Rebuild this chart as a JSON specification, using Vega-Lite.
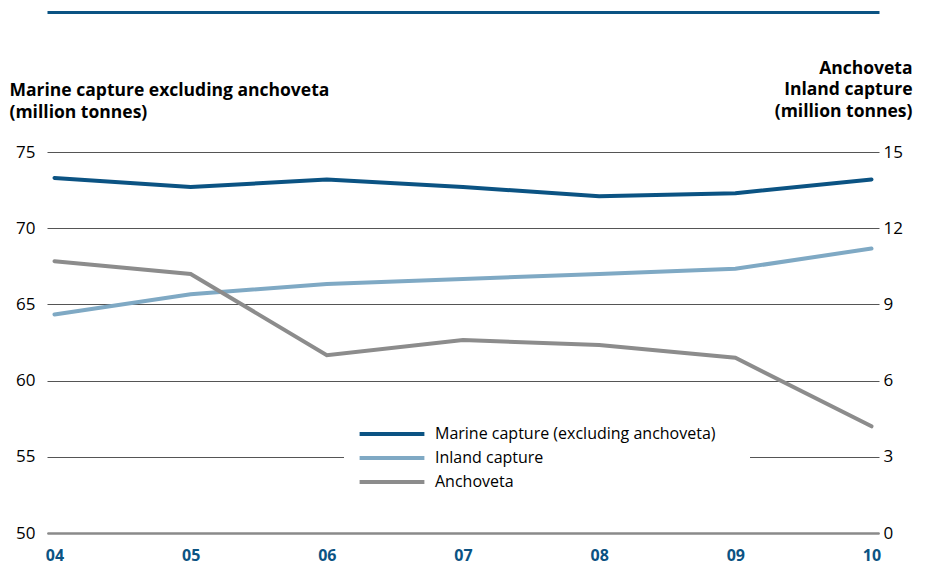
{
  "$schema": "https://vega.github.io/schema/vega-lite/v6.json",
  "width": 832,
  "height": 381,
  "autosize": {"type": "none"},
  "padding": {"left": 47, "top": 152, "right": 55, "bottom": 32},
  "background": "white",
  "config": {
    "font": "Open Sans",
    "view": {"stroke": null}
  },
  "data": {
    "values": [
      {"year": "04", "series": "Marine capture (excluding anchoveta)", "value": 73.3},
      {"year": "05", "series": "Marine capture (excluding anchoveta)", "value": 72.7},
      {"year": "06", "series": "Marine capture (excluding anchoveta)", "value": 73.2},
      {"year": "07", "series": "Marine capture (excluding anchoveta)", "value": 72.7},
      {"year": "08", "series": "Marine capture (excluding anchoveta)", "value": 72.1},
      {"year": "09", "series": "Marine capture (excluding anchoveta)", "value": 72.3},
      {"year": "10", "series": "Marine capture (excluding anchoveta)", "value": 73.2},
      {"year": "04", "series": "Inland capture", "value": 8.6},
      {"year": "05", "series": "Inland capture", "value": 9.4},
      {"year": "06", "series": "Inland capture", "value": 9.8},
      {"year": "07", "series": "Inland capture", "value": 10.0},
      {"year": "08", "series": "Inland capture", "value": 10.2},
      {"year": "09", "series": "Inland capture", "value": 10.4},
      {"year": "10", "series": "Inland capture", "value": 11.2},
      {"year": "04", "series": "Anchoveta", "value": 10.7},
      {"year": "05", "series": "Anchoveta", "value": 10.2},
      {"year": "06", "series": "Anchoveta", "value": 7.0},
      {"year": "07", "series": "Anchoveta", "value": 7.6},
      {"year": "08", "series": "Anchoveta", "value": 7.4},
      {"year": "09", "series": "Anchoveta", "value": 6.9},
      {"year": "10", "series": "Anchoveta", "value": 4.2}
    ]
  },
  "layer": [
    {
      "transform": [{"filter": "datum.series == 'Marine capture (excluding anchoveta)'"}],
      "mark": {"type": "line", "strokeWidth": 4, "strokeCap": "round"},
      "encoding": {
        "x": {
          "field": "year", "type": "ordinal",
          "scale": {"type": "point", "padding": 0.055},
          "axis": {
            "title": null, "labelAngle": 0, "ticks": false,
            "domainColor": "#8a8a8a", "domainWidth": 2.5,
            "labelFontWeight": "bold", "labelColor": "#0b5383", "labelFontSize": 16,
            "labelPadding": 14, "grid": false
          }
        },
        "y": {
          "field": "value", "type": "quantitative",
          "scale": {"domain": [50, 75], "nice": false, "zero": false},
          "axis": {
            "values": [50, 55, 60, 65, 70, 75],
            "title": ["Marine capture excluding anchoveta", "(million tonnes)"],
            "titleAngle": 0, "titleAlign": "left", "titleBaseline": "alphabetic",
            "titleX": -38, "titleY": -57, "titleFontSize": 17.5, "titleFontWeight": "bold",
            "titleColor": "#000", "titleLineHeight": 22,
            "domain": false, "ticks": false, "labelPadding": 12,
            "labelFontSize": 17, "labelColor": "#000",
            "grid": true, "gridColor": "#555", "gridWidth": 1
          }
        },
        "color": {
          "field": "series", "type": "nominal",
          "scale": {
            "domain": ["Marine capture (excluding anchoveta)", "Inland capture", "Anchoveta"],
            "range": ["#0b5383", "#7fa9c4", "#8c8c8c"]
          },
          "legend": {
            "title": null, "orient": "none", "legendX": 297, "legendY": 234,
            "fillColor": "white", "padding": 34, "labelLimit": 400,
            "symbolType": "M-2.7,0H2.7", "symbolSize": 576, "symbolStrokeWidth": 4,
            "symbolStrokeCap": "round",
            "labelFontSize": 16, "labelColor": "#000", "rowPadding": 2, "labelOffset": 29
          }
        }
      }
    },
    {
      "transform": [{"filter": "datum.series != 'Marine capture (excluding anchoveta)'"}],
      "mark": {"type": "line", "strokeWidth": 4, "strokeCap": "round"},
      "encoding": {
        "x": {
          "field": "year", "type": "ordinal",
          "axis": {
            "orient": "top", "offset": 140, "labels": false, "ticks": false,
            "title": null, "grid": false,
            "domainColor": "#0b5383", "domainWidth": 3
          }
        },
        "y": {
          "field": "value", "type": "quantitative",
          "scale": {"domain": [0, 15], "nice": false, "zero": false},
          "axis": {
            "orient": "right",
            "values": [0, 3, 6, 9, 12, 15],
            "title": ["Anchoveta", "Inland capture", "(million tonnes)"],
            "titleAngle": 0, "titleAlign": "right", "titleBaseline": "alphabetic",
            "titleX": 33, "titleY": -79, "titleFontSize": 17.5, "titleFontWeight": "bold",
            "titleColor": "#000", "titleLineHeight": 21.5,
            "domain": false, "ticks": false, "labelPadding": 4,
            "labelFontSize": 17, "labelColor": "#000", "grid": false
          }
        },
        "color": {"field": "series", "type": "nominal"}
      }
    }
  ],
  "resolve": {"scale": {"y": "independent"}, "axis": {"x": "independent"}}
}
